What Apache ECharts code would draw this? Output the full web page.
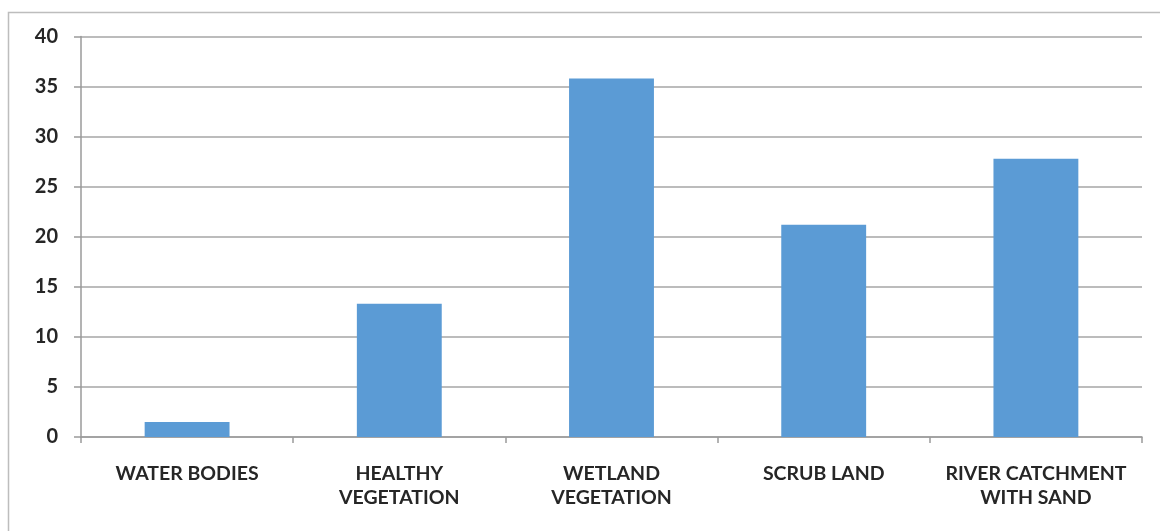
<!DOCTYPE html>
<html>
<head>
<meta charset="utf-8">
<script src="https://cdn.jsdelivr.net/npm/echarts@6/dist/echarts.min.js"></script>
<style>
  html, body { margin: 0; padding: 0; background: #ffffff; }
  #chart { width: 1160px; height: 531px; }
</style>
</head>
<body>
<div id="chart"></div>
<script>
// Land cover classes and their share (%)
const categories = [
  'WATER BODIES',
  'HEALTHY\nVEGETATION',
  'WETLAND\nVEGETATION',
  'SCRUB LAND',
  'RIVER CATCHMENT\nWITH SAND'
];
const values = [1.5, 13.3, 35.8, 21.2, 27.8];
const yTicks = [0, 5, 10, 15, 20, 25, 30, 35, 40];

const chart = echarts.init(document.getElementById('chart'), null, { renderer: 'canvas' });

const labelFont = 'Lato, "Open Sans", sans-serif';

chart.setOption({
  backgroundColor: '#ffffff',
  animation: false,
  graphic: [{
    type: 'rect',
    shape: { x: 8.5, y: 12.5, width: 1170, height: 540 },
    style: { fill: 'none', stroke: '#bdbdbd', lineWidth: 1.5 },
    silent: true
  }],
  grid: { left: 81, right: 18, top: 36.5, bottom: 94, containLabel: false },
  xAxis: {
    type: 'category',
    data: categories,
    axisLine: { show: true, lineStyle: { color: '#9a9a9a', width: 1.5 } },
    axisTick: { show: true, length: 6, alignWithLabel: false, lineStyle: { color: '#9a9a9a', width: 1.5 } },
    axisLabel: {
      color: '#262626',
      fontFamily: labelFont,
      fontWeight: 'bold',
      fontSize: 19.5,
      lineHeight: 24.5,
      margin: 24,
      interval: 0
    }
  },
  yAxis: {
    type: 'value',
    min: yTicks[0],
    max: yTicks[yTicks.length - 1],
    interval: 5,
    axisLine: { show: true, lineStyle: { color: '#9a9a9a', width: 1.5 } },
    axisTick: { show: true, length: 7, lineStyle: { color: '#9a9a9a', width: 1.5 } },
    splitLine: { show: true, lineStyle: { color: '#a6a6a6', width: 1.5 } },
    axisLabel: {
      color: '#262626',
      fontFamily: labelFont,
      fontWeight: 'bold',
      fontSize: 20,
      margin: 23
    }
  },
  series: [{
    type: 'bar',
    data: values,
    barWidth: '40%',
    itemStyle: { color: '#5b9bd5' }
  }]
});
</script>
</body>
</html>
